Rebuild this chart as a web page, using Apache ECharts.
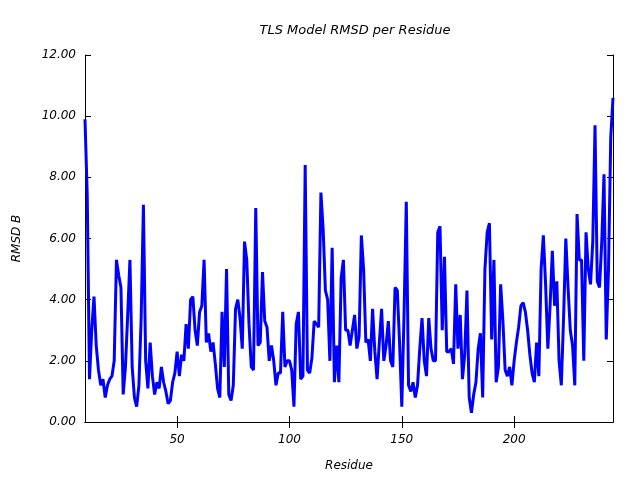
<!DOCTYPE html>
<html>
<head>
<meta charset="utf-8">
<script src="https://cdn.jsdelivr.net/npm/echarts@6/dist/echarts.min.js"></script>
<style>html,body{margin:0;padding:0;background:#fff}#c{width:640px;height:480px}</style>
</head>
<body>
<div id="c"></div>
<script>
var firstResidue = 9;
var rmsd = [
 9.9,7.4,1.4,3.0,4.1,2.5,1.7,1.2,1.4,0.8,1.2,1.4,1.5,2.0,5.3,4.8,4.4,0.9,1.8,3.5,
 5.3,1.8,0.8,0.5,1.2,3.4,7.1,2.0,1.1,2.6,1.5,0.9,1.3,1.1,1.8,1.3,1.0,0.6,0.7,1.3,
 1.6,2.3,1.5,2.2,2.0,3.2,2.4,4.0,4.1,3.0,2.5,3.6,3.8,5.3,2.6,2.9,2.3,2.6,1.9,1.1,
 0.8,3.6,1.8,5.0,0.9,0.7,1.2,3.7,4.0,3.4,2.4,5.9,5.3,3.2,1.8,1.7,7.0,2.5,2.6,4.9,
 3.3,3.1,2.0,2.5,2.0,1.2,1.6,1.6,3.6,1.8,2.0,2.0,1.7,0.5,3.2,3.6,1.4,1.5,8.4,1.7,
 1.6,2.1,3.3,3.2,3.1,7.5,6.3,4.3,4.0,2.0,5.7,1.3,2.5,1.3,4.7,5.3,3.0,3.0,2.5,3.0,
 3.5,2.4,2.8,6.1,5.0,2.6,2.7,2.0,3.7,2.3,1.4,2.6,3.7,2.0,2.5,3.3,2.0,1.8,4.4,4.3,
 2.6,0.5,3.5,7.2,1.2,1.0,1.3,0.8,1.2,2.4,3.4,2.0,1.5,3.4,2.4,2.0,2.0,6.2,6.4,3.0,
 5.4,2.3,2.3,2.4,1.9,4.5,2.4,3.5,1.4,2.2,4.3,0.8,0.3,0.9,1.3,2.4,2.9,0.8,5.0,6.2,
 6.5,2.7,5.3,1.3,1.8,4.5,3.3,1.7,1.5,1.8,1.2,2.0,2.6,3.1,3.8,3.9,3.6,3.0,2.2,1.6,
 1.3,2.6,1.5,5.0,6.1,4.5,2.4,3.8,5.6,3.8,4.6,2.0,1.2,3.4,6.0,4.4,3.0,2.5,1.2,6.8,
 5.3,5.3,2.0,6.2,5.0,4.5,5.9,9.7,4.6,4.4,5.9,8.1,2.7,5.0,9.3,10.6
];
var xTicks = [50, 100, 150, 200];
var titleText = 'TLS Model RMSD per Residue';
var xName = 'Residue';
var yName = 'RMSD B';

var pts = rmsd.map(function (v, i) { return [firstResidue + i, v]; });
var lastResidue = firstResidue + rmsd.length - 1;
var font = 'DejaVu Sans';
var txt = { color: '#000', fontFamily: font, fontStyle: 'italic', fontSize: 12 };

var chart = echarts.init(document.getElementById('c'), null, { renderer: 'canvas' });
chart.setOption({
  animation: false,
  backgroundColor: '#fff',
  title: {
    text: titleText, left: 350, top: 19, textAlign: 'center',
    textStyle: { color: '#000', fontFamily: font, fontStyle: 'italic', fontWeight: 'normal', fontSize: 13 }
  },
  grid: { left: 85, right: 27, top: 55, bottom: 58, containLabel: false },
  xAxis: [{
    type: 'value', min: firstResidue, max: lastResidue, position: 'bottom',
    name: xName, nameLocation: 'middle', nameGap: 38, nameTextStyle: txt,
    axisLine: { show: true, lineStyle: { color: '#000', width: 1 } },
    axisTick: { show: true, inside: true, length: 6, customValues: xTicks, lineStyle: { color: '#000' } },
    axisLabel: { show: true, customValues: xTicks, margin: 12, color: '#000', fontFamily: font, fontStyle: 'italic', fontSize: 12 },
    splitLine: { show: false }
  }, {
    type: 'value', min: firstResidue, max: lastResidue, position: 'top',
    axisLine: { show: true, lineStyle: { color: '#000', width: 1 } },
    axisTick: { show: true, inside: true, length: 6, customValues: xTicks, lineStyle: { color: '#000' } },
    axisLabel: { show: false }, splitLine: { show: false }
  }],
  yAxis: [{
    type: 'value', min: 0, max: 12, interval: 2, position: 'left',
    name: yName, nameLocation: 'middle', nameGap: 62, nameRotate: 90, nameTextStyle: txt,
    axisLine: { show: true, lineStyle: { color: '#000', width: 1 } },
    axisTick: { show: true, inside: true, length: 6, lineStyle: { color: '#000' } },
    axisLabel: { show: true, margin: 9, color: '#000', fontFamily: font, fontStyle: 'italic', fontSize: 12,
      formatter: function (v) { return v.toFixed(2); } },
    splitLine: { show: false }
  }, {
    type: 'value', min: 0, max: 12, interval: 2, position: 'right',
    axisLine: { show: true, lineStyle: { color: '#000', width: 1 } },
    axisTick: { show: true, inside: true, length: 6, lineStyle: { color: '#000' } },
    axisLabel: { show: false }, splitLine: { show: false }
  }],
  series: [{
    type: 'line', xAxisIndex: 0, yAxisIndex: 0, data: pts,
    showSymbol: false, symbol: 'none', clip: true,
    lineStyle: { color: '#0000ff', width: 3, join: 'bevel', cap: 'butt' }
  }]
});
</script>
</body>
</html>
